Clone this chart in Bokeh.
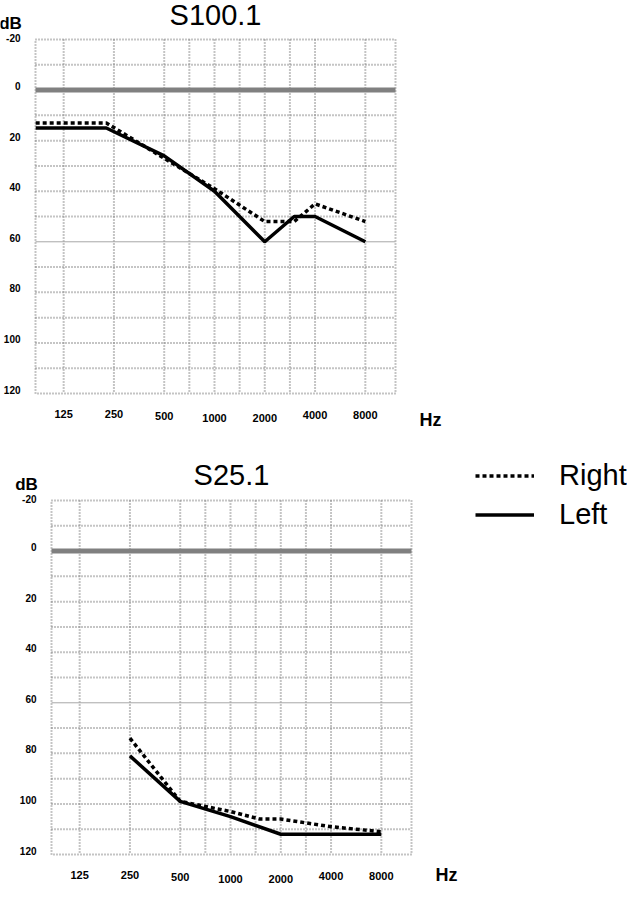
import math
from bokeh.plotting import figure
from bokeh.models import Range1d, Legend, LegendItem
from bokeh.core.properties import value
from bokeh.layouts import column
from bokeh.embed import file_html
from bokeh.resources import INLINE

FONT = "Liberation Sans"

# ---------------- data ----------------
tick_freqs = [125, 250, 500, 1000, 2000, 4000, 8000]
tick_labels = ["125", "250", "500", "1000", "2000", "4000", "8000"]
half_octave_grid = [707, 1414, 2828]
db_ticks = [-20, 0, 20, 40, 60, 80, 100, 120]
db_tick_labels = ["-20", "0", "20", "40", "60", "80", "100", "120"]
db_grid = [-10, 10, 20, 30, 40, 50, 70, 80, 90, 100, 110]

# S100.1
s100_right_freq = [85, 225, 500, 1000, 2000, 3000, 4000, 8000]
s100_right_db = [13, 13, 27, 39, 52, 52, 45, 52]
s100_left_freq = [85, 225, 500, 1000, 2000, 3000, 4000, 8000]
s100_left_db = [15, 15, 26, 40, 60, 50, 50, 60]

# S25.1
s25_right_freq = [250, 500, 1000, 1500, 2000, 4000, 8000]
s25_right_db = [74, 99, 103, 106, 106, 109, 111]
s25_left_freq = [250, 500, 1000, 2000, 4000, 8000]
s25_left_db = [81, 99, 105, 112, 112, 112]

# ---------------- style / layout ----------------
GRID_COLOR = "#8a8a8a"
X_LABEL_DY = [20, 20, 22, 24, 24, 21, 21]   # slight stagger of the Hz labels
BOX_W, BOX_H = 360, 354
X0, X1 = -0.56, 6.6          # octaves re 125 Hz at the box edges
Y_TOP, Y_BOT = -20, 120      # dB at the box edges


def octv(f):
    return math.log2(f / 125.0)


def build(title, rf, rdb, lf, ldb, cw, ch, box_left, box_top, title_up, hz_down):
    ppo = BOX_W / (X1 - X0)
    ppd = BOX_H / (Y_BOT - Y_TOP)
    xr = Range1d(X0 - box_left / ppo, X1 + (cw - box_left - BOX_W) / ppo)
    yr = Range1d(Y_BOT + (ch - box_top - BOX_H) / ppd, Y_TOP - box_top / ppd)
    p = figure(width=cw, height=ch, output_backend="svg", toolbar_location=None,
               x_range=xr, y_range=yr, x_axis_location=None, y_axis_location=None,
               min_border=0)
    p.outline_line_color = None
    p.xgrid.visible = False
    p.ygrid.visible = False
    p.background_fill_color = "white"
    p.border_fill_color = "white"

    # dotted grid
    gx = [octv(f) for f in tick_freqs + half_octave_grid]
    p.segment(x0=gx, y0=[Y_TOP] * len(gx), x1=gx, y1=[Y_BOT] * len(gx),
              line_color=GRID_COLOR, line_width=2, line_dash="1 2")
    p.segment(x0=[X0] * len(db_grid), y0=db_grid, x1=[X1] * len(db_grid), y1=db_grid,
              line_color=GRID_COLOR, line_width=2, line_dash="1 2")
    p.quad(left=[X0], right=[X1], top=[Y_TOP], bottom=[Y_BOT], fill_color=None,
           line_color=GRID_COLOR, line_width=2, line_dash="1 2")
    # reference lines
    p.segment(x0=[X0], y0=[0], x1=[X1], y1=[0], line_color="#808080", line_width=5)
    p.segment(x0=[X0], y0=[60], x1=[X1], y1=[60], line_color="#a8a8a8", line_width=1)

    # curves
    r_right = p.line([octv(f) for f in rf], rdb, line_color="black", line_width=3.5,
                     line_dash="4 3")
    r_left = p.line([octv(f) for f in lf], ldb, line_color="black", line_width=3.5)

    # x tick labels
    p.text(x=[octv(f) for f in tick_freqs], y=[Y_BOT] * len(tick_freqs), text=tick_labels,
           y_offset=X_LABEL_DY,
           text_font=value(FONT), text_font_style="bold", text_font_size="11px",
           text_align="center", text_baseline="middle", text_color="black")
    # y tick labels
    p.text(x=[X0] * len(db_ticks), y=db_ticks, text=db_tick_labels,
           x_offset=-15, y_offset=[-2] + [-4] * (len(db_ticks) - 1),
           text_font=value(FONT), text_font_style="bold", text_font_size="10px",
           text_align="right", text_baseline="middle", text_color="black")
    # title, units
    p.text(x=[(X0 + X1) / 2], y=[Y_TOP], text=[title], y_offset=-title_up,
           text_font=value(FONT), text_font_size="29px", text_align="center",
           text_baseline="middle", text_color="black")
    p.text(x=[X0], y=[Y_TOP], text=["dB"], x_offset=-25, y_offset=-16,
           text_font=value(FONT), text_font_style="bold", text_font_size="17px",
           text_align="center", text_baseline="middle", text_color="black")
    p.text(x=[X1], y=[Y_BOT], text=["Hz"], x_offset=35, y_offset=hz_down,
           text_font=value(FONT), text_font_style="bold", text_font_size="18px",
           text_align="center", text_baseline="middle", text_color="black")
    return p, r_right, r_left


p1, _, _ = build("S100.1", s100_right_freq, s100_right_db, s100_left_freq, s100_left_db,
                 627, 430, 35, 39, 25, 26)
p2, rr, rl = build("S25.1", s25_right_freq, s25_right_db, s25_left_freq, s25_left_db,
                   627, 455, 51, 70, 26, 20)

leg = Legend(items=[LegendItem(label="Right", renderers=[rr]),
                    LegendItem(label="Left", renderers=[rl])],
             location=(475, 351), orientation="vertical",
             glyph_width=59, glyph_height=39, label_height=39, label_standoff=25,
             label_text_font=FONT, label_text_font_size="29px", label_text_color="black",
             padding=0, margin=0, spacing=0,
             border_line_color=None, background_fill_alpha=0)
p2.add_layout(leg)

layout = column(p1, p2)
open("out.html", "w").write(file_html(layout, INLINE))
